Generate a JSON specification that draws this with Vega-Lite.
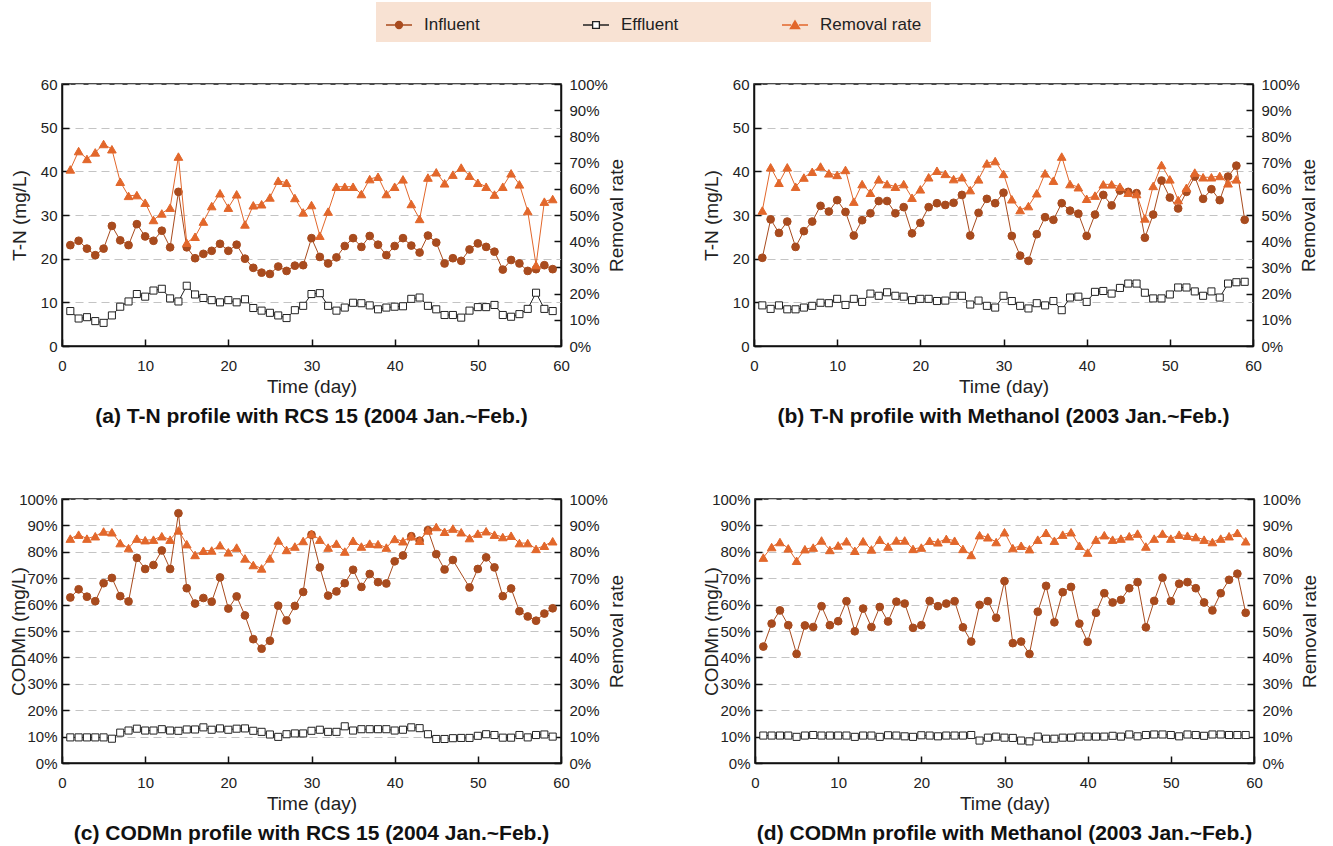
{
  "$schema": "https://vega.github.io/schema/vega-lite/v6.json",
  "padding": {"left": 8, "top": 2, "right": 4, "bottom": 0},
  "background": "white",
  "datasets": {
    "a": [
      {"d":1,"Influent":23.1,"Effluent":8.0,"Removal rate":67.4},
      {"d":2,"Influent":24.1,"Effluent":6.3,"Removal rate":74.4},
      {"d":3,"Influent":22.3,"Effluent":6.6,"Removal rate":71.4},
      {"d":4,"Influent":20.8,"Effluent":5.7,"Removal rate":73.9},
      {"d":5,"Influent":22.3,"Effluent":5.3,"Removal rate":77.1},
      {"d":6,"Influent":27.5,"Effluent":7.0,"Removal rate":75.1},
      {"d":7,"Influent":24.2,"Effluent":9.0,"Removal rate":62.7},
      {"d":8,"Influent":23.1,"Effluent":10.2,"Removal rate":57.3},
      {"d":9,"Influent":27.9,"Effluent":11.9,"Removal rate":57.6},
      {"d":10,"Influent":25.1,"Effluent":11.3,"Removal rate":54.7},
      {"d":11,"Influent":24.1,"Effluent":12.7,"Removal rate":48.1},
      {"d":12,"Influent":26.4,"Effluent":13.1,"Removal rate":50.6},
      {"d":13,"Influent":22.6,"Effluent":10.9,"Removal rate":52.8},
      {"d":14,"Influent":35.3,"Effluent":10.2,"Removal rate":72.3},
      {"d":15,"Influent":22.6,"Effluent":13.8,"Removal rate":39.4},
      {"d":16,"Influent":20.1,"Effluent":11.8,"Removal rate":41.7},
      {"d":17,"Influent":21.1,"Effluent":11.0,"Removal rate":47.5},
      {"d":18,"Influent":21.8,"Effluent":10.5,"Removal rate":53.4},
      {"d":19,"Influent":23.4,"Effluent":10.0,"Removal rate":58.3},
      {"d":20,"Influent":21.8,"Effluent":10.5,"Removal rate":52.8},
      {"d":21,"Influent":23.2,"Effluent":10.0,"Removal rate":57.9},
      {"d":22,"Influent":20.0,"Effluent":10.7,"Removal rate":46.4},
      {"d":23,"Influent":17.9,"Effluent":8.7,"Removal rate":53.7},
      {"d":24,"Influent":16.8,"Effluent":8.1,"Removal rate":54.1},
      {"d":25,"Influent":16.5,"Effluent":7.6,"Removal rate":56.7},
      {"d":26,"Influent":18.2,"Effluent":7.0,"Removal rate":63.1},
      {"d":27,"Influent":17.2,"Effluent":6.4,"Removal rate":62.3},
      {"d":28,"Influent":18.4,"Effluent":8.2,"Removal rate":56.5},
      {"d":29,"Influent":18.5,"Effluent":9.2,"Removal rate":51.0},
      {"d":30,"Influent":24.7,"Effluent":11.9,"Removal rate":53.8},
      {"d":31,"Influent":20.4,"Effluent":12.1,"Removal rate":42.1},
      {"d":32,"Influent":18.9,"Effluent":9.2,"Removal rate":51.3},
      {"d":33,"Influent":20.3,"Effluent":8.1,"Removal rate":60.8},
      {"d":34,"Influent":22.9,"Effluent":8.8,"Removal rate":60.8},
      {"d":35,"Influent":24.7,"Effluent":9.9,"Removal rate":60.8},
      {"d":36,"Influent":22.7,"Effluent":9.8,"Removal rate":58.0},
      {"d":37,"Influent":25.2,"Effluent":9.3,"Removal rate":63.7},
      {"d":38,"Influent":23.2,"Effluent":8.4,"Removal rate":64.6},
      {"d":39,"Influent":20.8,"Effluent":8.8,"Removal rate":58.0},
      {"d":40,"Influent":22.9,"Effluent":9.0,"Removal rate":60.8},
      {"d":41,"Influent":24.7,"Effluent":9.1,"Removal rate":63.6},
      {"d":42,"Influent":23.0,"Effluent":10.8,"Removal rate":54.2},
      {"d":43,"Influent":21.4,"Effluent":11.1,"Removal rate":48.5},
      {"d":44,"Influent":25.3,"Effluent":9.2,"Removal rate":64.3},
      {"d":45,"Influent":23.7,"Effluent":8.4,"Removal rate":66.3},
      {"d":46,"Influent":18.9,"Effluent":7.1,"Removal rate":62.1},
      {"d":47,"Influent":20.1,"Effluent":7.1,"Removal rate":65.4},
      {"d":48,"Influent":19.5,"Effluent":6.5,"Removal rate":68.1},
      {"d":49,"Influent":22.1,"Effluent":8.1,"Removal rate":65.0},
      {"d":50,"Influent":23.5,"Effluent":8.9,"Removal rate":62.3},
      {"d":51,"Influent":22.7,"Effluent":8.9,"Removal rate":60.8},
      {"d":52,"Influent":21.6,"Effluent":9.4,"Removal rate":57.8},
      {"d":53,"Influent":17.5,"Effluent":7.1,"Removal rate":60.8},
      {"d":54,"Influent":19.7,"Effluent":6.7,"Removal rate":65.9},
      {"d":55,"Influent":18.9,"Effluent":7.3,"Removal rate":61.7},
      {"d":56,"Influent":17.2,"Effluent":8.5,"Removal rate":51.5},
      {"d":57,"Influent":17.6,"Effluent":12.2,"Removal rate":30.9},
      {"d":58,"Influent":18.5,"Effluent":8.5,"Removal rate":55.1},
      {"d":59,"Influent":17.6,"Effluent":8.0,"Removal rate":56.1}
    ],
    "b": [
      {"d":1,"Influent":20.2,"Effluent":9.3,"Removal rate":51.7},
      {"d":2,"Influent":29.0,"Effluent":8.5,"Removal rate":68.2},
      {"d":3,"Influent":25.9,"Effluent":9.3,"Removal rate":62.3},
      {"d":4,"Influent":28.5,"Effluent":8.4,"Removal rate":68.2},
      {"d":5,"Influent":22.7,"Effluent":8.4,"Removal rate":60.8},
      {"d":6,"Influent":26.3,"Effluent":8.8,"Removal rate":64.3},
      {"d":7,"Influent":28.5,"Effluent":9.2,"Removal rate":66.5},
      {"d":8,"Influent":32.1,"Effluent":9.9,"Removal rate":68.5},
      {"d":9,"Influent":30.8,"Effluent":9.8,"Removal rate":65.9},
      {"d":10,"Influent":33.4,"Effluent":10.8,"Removal rate":65.3},
      {"d":11,"Influent":30.7,"Effluent":9.4,"Removal rate":67.2},
      {"d":12,"Influent":25.3,"Effluent":10.8,"Removal rate":55.1},
      {"d":13,"Influent":28.8,"Effluent":10.1,"Removal rate":61.8},
      {"d":14,"Influent":30.4,"Effluent":12.0,"Removal rate":58.5},
      {"d":15,"Influent":33.2,"Effluent":11.5,"Removal rate":63.6},
      {"d":16,"Influent":33.2,"Effluent":12.3,"Removal rate":61.8},
      {"d":17,"Influent":30.4,"Effluent":11.5,"Removal rate":60.8},
      {"d":18,"Influent":31.8,"Effluent":11.3,"Removal rate":61.8},
      {"d":19,"Influent":25.8,"Effluent":10.5,"Removal rate":56.6},
      {"d":20,"Influent":28.2,"Effluent":10.8,"Removal rate":59.8},
      {"d":21,"Influent":31.8,"Effluent":10.8,"Removal rate":64.4},
      {"d":22,"Influent":32.7,"Effluent":10.3,"Removal rate":66.9},
      {"d":23,"Influent":32.3,"Effluent":10.4,"Removal rate":65.7},
      {"d":24,"Influent":32.8,"Effluent":11.5,"Removal rate":63.7},
      {"d":25,"Influent":34.6,"Effluent":11.5,"Removal rate":64.4},
      {"d":26,"Influent":25.3,"Effluent":9.5,"Removal rate":59.5},
      {"d":27,"Influent":30.5,"Effluent":10.4,"Removal rate":63.6},
      {"d":28,"Influent":33.7,"Effluent":9.2,"Removal rate":69.7},
      {"d":29,"Influent":32.7,"Effluent":8.8,"Removal rate":70.6},
      {"d":30,"Influent":35.1,"Effluent":11.5,"Removal rate":65.7},
      {"d":31,"Influent":25.2,"Effluent":10.3,"Removal rate":56.0},
      {"d":32,"Influent":20.7,"Effluent":9.2,"Removal rate":51.9},
      {"d":33,"Influent":19.5,"Effluent":8.6,"Removal rate":53.4},
      {"d":34,"Influent":25.6,"Effluent":9.8,"Removal rate":58.3},
      {"d":35,"Influent":29.5,"Effluent":9.3,"Removal rate":65.9},
      {"d":36,"Influent":28.9,"Effluent":10.3,"Removal rate":63.1},
      {"d":37,"Influent":32.7,"Effluent":8.2,"Removal rate":72.3},
      {"d":38,"Influent":31.0,"Effluent":11.1,"Removal rate":61.8},
      {"d":39,"Influent":30.3,"Effluent":11.3,"Removal rate":60.6},
      {"d":40,"Influent":25.2,"Effluent":10.1,"Removal rate":56.2},
      {"d":41,"Influent":30.1,"Effluent":12.4,"Removal rate":57.4},
      {"d":42,"Influent":34.6,"Effluent":12.6,"Removal rate":61.7},
      {"d":43,"Influent":32.2,"Effluent":12.0,"Removal rate":61.7},
      {"d":44,"Influent":35.6,"Effluent":13.3,"Removal rate":60.8},
      {"d":45,"Influent":35.3,"Effluent":14.3,"Removal rate":58.5},
      {"d":46,"Influent":35.0,"Effluent":14.3,"Removal rate":58.0},
      {"d":47,"Influent":24.8,"Effluent":12.2,"Removal rate":48.7},
      {"d":48,"Influent":30.1,"Effluent":10.9,"Removal rate":61.1},
      {"d":49,"Influent":37.9,"Effluent":10.9,"Removal rate":69.1},
      {"d":50,"Influent":34.0,"Effluent":11.8,"Removal rate":63.6},
      {"d":51,"Influent":31.5,"Effluent":13.4,"Removal rate":55.7},
      {"d":52,"Influent":35.3,"Effluent":13.4,"Removal rate":60.4},
      {"d":53,"Influent":38.8,"Effluent":12.5,"Removal rate":66.2},
      {"d":54,"Influent":33.7,"Effluent":11.5,"Removal rate":64.4},
      {"d":55,"Influent":35.9,"Effluent":12.5,"Removal rate":64.4},
      {"d":56,"Influent":33.4,"Effluent":11.1,"Removal rate":64.9},
      {"d":57,"Influent":38.8,"Effluent":14.3,"Removal rate":62.1},
      {"d":58,"Influent":41.3,"Effluent":14.6,"Removal rate":63.6},
      {"d":59,"Influent":28.9,"Effluent":14.7,"Removal rate":null}
    ],
    "c": [
      {"d":1,"Influent":62.7,"Effluent":9.7,"Removal rate":85.0},
      {"d":2,"Influent":65.8,"Effluent":9.7,"Removal rate":86.5},
      {"d":3,"Influent":63.0,"Effluent":9.7,"Removal rate":85.0},
      {"d":4,"Influent":61.3,"Effluent":9.7,"Removal rate":85.9},
      {"d":5,"Influent":68.1,"Effluent":9.7,"Removal rate":87.7},
      {"d":6,"Influent":70.1,"Effluent":9.2,"Removal rate":87.4},
      {"d":7,"Influent":63.2,"Effluent":11.5,"Removal rate":83.3},
      {"d":8,"Influent":61.2,"Effluent":12.3,"Removal rate":81.4},
      {"d":9,"Influent":77.7,"Effluent":13.0,"Removal rate":85.0},
      {"d":10,"Influent":73.5,"Effluent":12.3,"Removal rate":84.4},
      {"d":11,"Influent":75.0,"Effluent":12.3,"Removal rate":84.6},
      {"d":12,"Influent":80.5,"Effluent":12.8,"Removal rate":85.9},
      {"d":13,"Influent":73.5,"Effluent":12.3,"Removal rate":84.6},
      {"d":14,"Influent":94.6,"Effluent":12.2,"Removal rate":88.1},
      {"d":15,"Influent":66.2,"Effluent":12.7,"Removal rate":82.9},
      {"d":16,"Influent":60.4,"Effluent":12.7,"Removal rate":78.8},
      {"d":17,"Influent":62.5,"Effluent":13.5,"Removal rate":80.4},
      {"d":18,"Influent":61.1,"Effluent":12.6,"Removal rate":80.5},
      {"d":19,"Influent":70.3,"Effluent":13.1,"Removal rate":82.5},
      {"d":20,"Influent":58.5,"Effluent":12.6,"Removal rate":79.8},
      {"d":21,"Influent":63.1,"Effluent":13.0,"Removal rate":81.6},
      {"d":22,"Influent":55.9,"Effluent":13.1,"Removal rate":77.5},
      {"d":23,"Influent":46.9,"Effluent":12.2,"Removal rate":75.0},
      {"d":24,"Influent":43.3,"Effluent":11.8,"Removal rate":73.7},
      {"d":25,"Influent":46.3,"Effluent":10.8,"Removal rate":77.5},
      {"d":26,"Influent":59.6,"Effluent":9.9,"Removal rate":84.3},
      {"d":27,"Influent":54.0,"Effluent":10.9,"Removal rate":80.7},
      {"d":28,"Influent":59.5,"Effluent":11.2,"Removal rate":82.0},
      {"d":29,"Influent":64.8,"Effluent":11.2,"Removal rate":84.1},
      {"d":30,"Influent":86.5,"Effluent":12.2,"Removal rate":86.8},
      {"d":31,"Influent":74.1,"Effluent":12.6,"Removal rate":84.6},
      {"d":32,"Influent":63.4,"Effluent":11.8,"Removal rate":81.6},
      {"d":33,"Influent":65.0,"Effluent":11.8,"Removal rate":83.1},
      {"d":34,"Influent":68.1,"Effluent":13.9,"Removal rate":80.1},
      {"d":35,"Influent":73.2,"Effluent":12.3,"Removal rate":84.2},
      {"d":36,"Influent":66.7,"Effluent":12.8,"Removal rate":82.0},
      {"d":37,"Influent":71.6,"Effluent":12.8,"Removal rate":83.1},
      {"d":38,"Influent":68.5,"Effluent":12.8,"Removal rate":82.9},
      {"d":39,"Influent":68.0,"Effluent":12.8,"Removal rate":81.6},
      {"d":40,"Influent":76.4,"Effluent":12.3,"Removal rate":84.9},
      {"d":41,"Influent":78.6,"Effluent":12.6,"Removal rate":84.0},
      {"d":42,"Influent":85.9,"Effluent":13.5,"Removal rate":85.9},
      {"d":43,"Influent":84.2,"Effluent":13.2,"Removal rate":84.2},
      {"d":44,"Influent":88.2,"Effluent":10.9,"Removal rate":88.1},
      {"d":45,"Influent":79.1,"Effluent":9.1,"Removal rate":89.4},
      {"d":46,"Influent":73.3,"Effluent":9.1,"Removal rate":87.6},
      {"d":47,"Influent":76.9,"Effluent":9.4,"Removal rate":88.8},
      {"d":48,"Influent":null,"Effluent":9.5,"Removal rate":87.4},
      {"d":49,"Influent":66.5,"Effluent":9.5,"Removal rate":85.2},
      {"d":50,"Influent":73.5,"Effluent":10.3,"Removal rate":86.9},
      {"d":51,"Influent":77.9,"Effluent":10.9,"Removal rate":87.8},
      {"d":52,"Influent":74.1,"Effluent":10.6,"Removal rate":86.5},
      {"d":53,"Influent":63.2,"Effluent":9.6,"Removal rate":85.6},
      {"d":54,"Influent":66.1,"Effluent":9.6,"Removal rate":86.1},
      {"d":55,"Influent":57.5,"Effluent":10.6,"Removal rate":83.3},
      {"d":56,"Influent":55.5,"Effluent":9.7,"Removal rate":83.3},
      {"d":57,"Influent":53.9,"Effluent":10.6,"Removal rate":81.1},
      {"d":58,"Influent":56.6,"Effluent":10.8,"Removal rate":82.3},
      {"d":59,"Influent":58.6,"Effluent":10.0,"Removal rate":84.0}
    ],
    "d": [
      {"d":1,"Influent":44.1,"Effluent":10.4,"Removal rate":77.8},
      {"d":2,"Influent":52.8,"Effluent":10.4,"Removal rate":81.8},
      {"d":3,"Influent":57.8,"Effluent":10.4,"Removal rate":83.7},
      {"d":4,"Influent":52.2,"Effluent":10.4,"Removal rate":81.3},
      {"d":5,"Influent":41.3,"Effluent":9.9,"Removal rate":76.6},
      {"d":6,"Influent":52.1,"Effluent":10.4,"Removal rate":81.0},
      {"d":7,"Influent":51.5,"Effluent":10.6,"Removal rate":81.6},
      {"d":8,"Influent":59.4,"Effluent":10.4,"Removal rate":84.3},
      {"d":9,"Influent":52.2,"Effluent":10.4,"Removal rate":80.7},
      {"d":10,"Influent":53.7,"Effluent":10.4,"Removal rate":82.4},
      {"d":11,"Influent":61.3,"Effluent":10.4,"Removal rate":84.0},
      {"d":12,"Influent":49.9,"Effluent":9.9,"Removal rate":80.4},
      {"d":13,"Influent":58.5,"Effluent":10.4,"Removal rate":84.0},
      {"d":14,"Influent":51.5,"Effluent":10.4,"Removal rate":80.9},
      {"d":15,"Influent":59.1,"Effluent":9.9,"Removal rate":84.6},
      {"d":16,"Influent":53.6,"Effluent":10.5,"Removal rate":82.0},
      {"d":17,"Influent":61.1,"Effluent":10.4,"Removal rate":84.3},
      {"d":18,"Influent":60.4,"Effluent":10.1,"Removal rate":84.3},
      {"d":19,"Influent":51.2,"Effluent":9.9,"Removal rate":81.1},
      {"d":20,"Influent":52.2,"Effluent":10.5,"Removal rate":81.6},
      {"d":21,"Influent":61.4,"Effluent":10.4,"Removal rate":84.2},
      {"d":22,"Influent":59.4,"Effluent":10.1,"Removal rate":83.6},
      {"d":23,"Influent":60.4,"Effluent":10.4,"Removal rate":84.9},
      {"d":24,"Influent":61.3,"Effluent":10.4,"Removal rate":84.2},
      {"d":25,"Influent":51.4,"Effluent":10.4,"Removal rate":81.1},
      {"d":26,"Influent":46.0,"Effluent":10.6,"Removal rate":78.8},
      {"d":27,"Influent":59.9,"Effluent":8.5,"Removal rate":86.3},
      {"d":28,"Influent":61.3,"Effluent":9.6,"Removal rate":85.5},
      {"d":29,"Influent":55.0,"Effluent":10.0,"Removal rate":83.7},
      {"d":30,"Influent":68.9,"Effluent":9.6,"Removal rate":87.4},
      {"d":31,"Influent":45.4,"Effluent":9.5,"Removal rate":81.4},
      {"d":32,"Influent":46.0,"Effluent":8.5,"Removal rate":82.3},
      {"d":33,"Influent":41.3,"Effluent":8.2,"Removal rate":81.0},
      {"d":34,"Influent":57.3,"Effluent":10.0,"Removal rate":84.6},
      {"d":35,"Influent":67.1,"Effluent":9.2,"Removal rate":87.2},
      {"d":36,"Influent":53.3,"Effluent":9.2,"Removal rate":84.2},
      {"d":37,"Influent":64.7,"Effluent":9.6,"Removal rate":86.5},
      {"d":38,"Influent":66.7,"Effluent":9.6,"Removal rate":87.4},
      {"d":39,"Influent":52.8,"Effluent":10.0,"Removal rate":82.3},
      {"d":40,"Influent":45.9,"Effluent":10.0,"Removal rate":79.7},
      {"d":41,"Influent":56.9,"Effluent":10.0,"Removal rate":84.6},
      {"d":42,"Influent":64.3,"Effluent":10.0,"Removal rate":86.3},
      {"d":43,"Influent":60.8,"Effluent":10.3,"Removal rate":84.6},
      {"d":44,"Influent":61.8,"Effluent":10.0,"Removal rate":85.0},
      {"d":45,"Influent":66.2,"Effluent":10.8,"Removal rate":85.9},
      {"d":46,"Influent":68.5,"Effluent":10.1,"Removal rate":86.9},
      {"d":47,"Influent":51.4,"Effluent":10.6,"Removal rate":82.0},
      {"d":48,"Influent":61.4,"Effluent":10.8,"Removal rate":85.0},
      {"d":49,"Influent":70.2,"Effluent":10.8,"Removal rate":86.9},
      {"d":50,"Influent":61.3,"Effluent":10.6,"Removal rate":85.0},
      {"d":51,"Influent":67.9,"Effluent":10.1,"Removal rate":86.5},
      {"d":52,"Influent":68.5,"Effluent":10.8,"Removal rate":86.1},
      {"d":53,"Influent":66.2,"Effluent":10.6,"Removal rate":85.6},
      {"d":54,"Influent":60.8,"Effluent":10.3,"Removal rate":84.6},
      {"d":55,"Influent":57.8,"Effluent":10.8,"Removal rate":83.7},
      {"d":56,"Influent":64.3,"Effluent":10.8,"Removal rate":85.0},
      {"d":57,"Influent":69.4,"Effluent":10.6,"Removal rate":85.9},
      {"d":58,"Influent":71.7,"Effluent":10.6,"Removal rate":87.2},
      {"d":59,"Influent":56.9,"Effluent":10.6,"Removal rate":84.0}
    ]
  },
  "config": {
    "font": "Liberation Sans",
    "view": {"stroke": "#111111", "strokeWidth": 1.5},
    "title": {"orient": "bottom", "fontSize": 21, "fontWeight": "bold", "color": "#111111", "offset": 10, "anchor": "middle"},
    "axis": {
      "labelFontSize": 15, "titleFontSize": 19, "titleFontWeight": "normal",
      "labelColor": "#222222", "titleColor": "#222222",
      "domainColor": "#111111", "domainWidth": 1.5,
      "tickColor": "#111111", "tickWidth": 1.5, "tickSize": -7,
      "labelFlush": false, "labelOverlap": false,
      "grid": false, "gridColor": "#c4c4c4", "gridDash": [8, 5], "gridWidth": 1.2
    },
    "axisX": {"labelPadding": 19, "titlePadding": 4},
    "axisLeft": {"labelPadding": 12},
    "axisRight": {"labelPadding": 15, "titlePadding": 0, "titleAngle": 270, "titleBaseline": "top"},
    "legend": {
      "title": null, "fillColor": "#f8e2d3", "padding": 9,
      "labelFontSize": 17, "labelColor": "#222222", "labelOffset": 11,
      "columnPadding": 100, "symbolSize": 676, "symbolOpacity": 1, "symbolStrokeWidth": 1.3
    }
  },
  "resolve": {"scale": {"stroke": "shared", "fill": "shared", "shape": "shared"}},
  "spacing": 63,
  "vconcat": [
    {
      "spacing": 73,
      "resolve": {"scale": {"stroke": "shared", "fill": "shared", "shape": "shared"}},
      "hconcat": [
        {
          "width": 499, "height": 262,
          "data": {"name": "a"},
          "title": "(a) T-N profile with RCS 15 (2004 Jan.~Feb.)",
          "encoding": {
            "x": {"field": "d", "type": "quantitative", "scale": {"domain": [0, 60], "nice": false}, "axis": {"values": [0,10,20,30,40,50,60], "title": "Time (day)"}},
            "stroke": {"field": "series", "type": "nominal", "scale": {"domain": ["Influent", "Effluent", "Removal rate"], "range": ["#a84b1e", "#222222", "#e2672b"]},
              "legend": {"orient": "none", "direction": "horizontal", "legendX": 314, "legendY": -82}}
          },
          "layer": [
            {
              "transform": [{"fold": ["Influent", "Effluent"], "as": ["series", "value"]}, {"filter": "isValid(datum.value)"}],
              "encoding": {"y": {"field": "value", "type": "quantitative", "scale": {"domain": [0, 60], "nice": false}, "axis": {"values": [0,10,20,30,40,50,60], "title": "T-N (mg/L)", "titlePadding": 11, "grid": true}}},
              "layer": [
                {"mark": {"type": "line", "strokeWidth": 1}},
                {"transform": [{"filter": "datum.series === 'Influent'"}], "mark": {"type": "point", "shape": "circle", "filled": true, "fill": "#a84b1e", "opacity": 1, "strokeWidth": 1, "size": 60}},
                {"transform": [{"filter": "datum.series === 'Effluent'"}], "mark": {"type": "point", "shape": "square", "filled": true, "fill": "#ffffff", "opacity": 1, "strokeWidth": 1, "size": 50}},
                {"mark": {"type": "point", "opacity": 0, "size": 10},
                 "encoding": {
                   "shape": {"field": "series", "type": "nominal", "scale": {"domain": ["Influent", "Effluent", "Removal rate"], "range": ["M-1,0L-0.27,0M0.27,0L1,0M-0.27,0A0.27,0.27 0 1,1 0.27,0A0.27,0.27 0 1,1 -0.27,0Z", "M-1,0L-0.26,0M0.26,0L1,0M-0.26,-0.26L0.26,-0.26L0.26,0.26L-0.26,0.26Z", "M-1,0L-0.3,0M0.3,0L1,0M0,-0.32L0.36,0.28L-0.36,0.28Z"]},
                     "legend": {"orient": "none", "direction": "horizontal", "legendX": 314, "legendY": -82}},
                   "fill": {"field": "series", "type": "nominal", "scale": {"domain": ["Influent", "Effluent", "Removal rate"], "range": ["#a84b1e", "#ffffff", "#e2672b"]},
                     "legend": {"orient": "none", "direction": "horizontal", "legendX": 314, "legendY": -82}}
                 }}
              ]
            },
            {
              "transform": [{"fold": ["Removal rate"], "as": ["series", "value"]}, {"filter": "isValid(datum.value)"}],
              "encoding": {"y": {"field": "value", "type": "quantitative", "scale": {"domain": [0, 100], "nice": false}, "axis": {"orient": "right", "values": [0,10,20,30,40,50,60,70,80,90,100], "labelExpr": "datum.value + '%'", "title": "Removal rate"}}},
              "layer": [
                {"mark": {"type": "line", "strokeWidth": 1}},
                {"mark": {"type": "point", "shape": "triangle-up", "filled": true, "fill": "#e2672b", "opacity": 1, "strokeWidth": 1, "size": 75}}
              ]
            }
          ],
          "resolve": {"scale": {"y": "independent"}}
        },
        {
          "width": 499, "height": 262,
          "data": {"name": "b"},
          "title": "(b) T-N profile with Methanol (2003 Jan.~Feb.)",
          "encoding": {
            "x": {"field": "d", "type": "quantitative", "scale": {"domain": [0, 60], "nice": false}, "axis": {"values": [0,10,20,30,40,50,60], "title": "Time (day)"}},
            "stroke": {"field": "series", "type": "nominal", "scale": {"domain": ["Influent", "Effluent", "Removal rate"], "range": ["#a84b1e", "#222222", "#e2672b"]}, "legend": null}
          },
          "layer": [
            {
              "transform": [{"fold": ["Influent", "Effluent"], "as": ["series", "value"]}, {"filter": "isValid(datum.value)"}],
              "encoding": {"y": {"field": "value", "type": "quantitative", "scale": {"domain": [0, 60], "nice": false}, "axis": {"values": [0,10,20,30,40,50,60], "title": "T-N (mg/L)", "titlePadding": 11, "grid": true}}},
              "layer": [
                {"mark": {"type": "line", "strokeWidth": 1}},
                {"transform": [{"filter": "datum.series === 'Influent'"}], "mark": {"type": "point", "shape": "circle", "filled": true, "fill": "#a84b1e", "opacity": 1, "strokeWidth": 1, "size": 60}},
                {"transform": [{"filter": "datum.series === 'Effluent'"}], "mark": {"type": "point", "shape": "square", "filled": true, "fill": "#ffffff", "opacity": 1, "strokeWidth": 1, "size": 50}}
              ]
            },
            {
              "transform": [{"fold": ["Removal rate"], "as": ["series", "value"]}, {"filter": "isValid(datum.value)"}],
              "encoding": {"y": {"field": "value", "type": "quantitative", "scale": {"domain": [0, 100], "nice": false}, "axis": {"orient": "right", "values": [0,10,20,30,40,50,60,70,80,90,100], "labelExpr": "datum.value + '%'", "title": "Removal rate"}}},
              "layer": [
                {"mark": {"type": "line", "strokeWidth": 1}},
                {"mark": {"type": "point", "shape": "triangle-up", "filled": true, "fill": "#e2672b", "opacity": 1, "strokeWidth": 1, "size": 75}}
              ]
            }
          ],
          "resolve": {"scale": {"y": "independent"}}
        }
      ]
    },
    {
      "spacing": 73,
      "resolve": {"scale": {"stroke": "shared", "fill": "shared", "shape": "shared"}},
      "hconcat": [
        {
          "width": 499, "height": 264,
          "data": {"name": "c"},
          "title": "(c) CODMn profile with RCS 15 (2004 Jan.~Feb.)",
          "encoding": {
            "x": {"field": "d", "type": "quantitative", "scale": {"domain": [0, 60], "nice": false}, "axis": {"values": [0,10,20,30,40,50,60], "title": "Time (day)"}},
            "stroke": {"field": "series", "type": "nominal", "scale": {"domain": ["Influent", "Effluent", "Removal rate"], "range": ["#a84b1e", "#222222", "#e2672b"]}, "legend": null}
          },
          "layer": [
            {
              "transform": [{"fold": ["Influent", "Effluent"], "as": ["series", "value"]}, {"filter": "isValid(datum.value)"}],
              "encoding": {"y": {"field": "value", "type": "quantitative", "scale": {"domain": [0, 100], "nice": false}, "axis": {"values": [0,10,20,30,40,50,60,70,80,90,100], "labelExpr": "datum.value + '%'", "title": "CODMn (mg/L)", "titlePadding": -10, "grid": true}}},
              "layer": [
                {"mark": {"type": "line", "strokeWidth": 1}},
                {"transform": [{"filter": "datum.series === 'Influent'"}], "mark": {"type": "point", "shape": "circle", "filled": true, "fill": "#a84b1e", "opacity": 1, "strokeWidth": 1, "size": 60}},
                {"transform": [{"filter": "datum.series === 'Effluent'"}], "mark": {"type": "point", "shape": "square", "filled": true, "fill": "#ffffff", "opacity": 1, "strokeWidth": 1, "size": 50}}
              ]
            },
            {
              "transform": [{"fold": ["Removal rate"], "as": ["series", "value"]}, {"filter": "isValid(datum.value)"}],
              "encoding": {"y": {"field": "value", "type": "quantitative", "scale": {"domain": [0, 100], "nice": false}, "axis": {"orient": "right", "values": [0,10,20,30,40,50,60,70,80,90,100], "labelExpr": "datum.value + '%'", "title": "Removal rate"}}},
              "layer": [
                {"mark": {"type": "line", "strokeWidth": 1}},
                {"mark": {"type": "point", "shape": "triangle-up", "filled": true, "fill": "#e2672b", "opacity": 1, "strokeWidth": 1, "size": 75}}
              ]
            }
          ],
          "resolve": {"scale": {"y": "independent"}}
        },
        {
          "width": 499, "height": 264,
          "data": {"name": "d"},
          "title": "(d) CODMn profile with Methanol (2003 Jan.~Feb.)",
          "encoding": {
            "x": {"field": "d", "type": "quantitative", "scale": {"domain": [0, 60], "nice": false}, "axis": {"values": [0,10,20,30,40,50,60], "title": "Time (day)"}},
            "stroke": {"field": "series", "type": "nominal", "scale": {"domain": ["Influent", "Effluent", "Removal rate"], "range": ["#a84b1e", "#222222", "#e2672b"]}, "legend": null}
          },
          "layer": [
            {
              "transform": [{"fold": ["Influent", "Effluent"], "as": ["series", "value"]}, {"filter": "isValid(datum.value)"}],
              "encoding": {"y": {"field": "value", "type": "quantitative", "scale": {"domain": [0, 100], "nice": false}, "axis": {"values": [0,10,20,30,40,50,60,70,80,90,100], "labelExpr": "datum.value + '%'", "title": "CODMn (mg/L)", "titlePadding": -10, "grid": true}}},
              "layer": [
                {"mark": {"type": "line", "strokeWidth": 1}},
                {"transform": [{"filter": "datum.series === 'Influent'"}], "mark": {"type": "point", "shape": "circle", "filled": true, "fill": "#a84b1e", "opacity": 1, "strokeWidth": 1, "size": 60}},
                {"transform": [{"filter": "datum.series === 'Effluent'"}], "mark": {"type": "point", "shape": "square", "filled": true, "fill": "#ffffff", "opacity": 1, "strokeWidth": 1, "size": 50}}
              ]
            },
            {
              "transform": [{"fold": ["Removal rate"], "as": ["series", "value"]}, {"filter": "isValid(datum.value)"}],
              "encoding": {"y": {"field": "value", "type": "quantitative", "scale": {"domain": [0, 100], "nice": false}, "axis": {"orient": "right", "values": [0,10,20,30,40,50,60,70,80,90,100], "labelExpr": "datum.value + '%'", "title": "Removal rate"}}},
              "layer": [
                {"mark": {"type": "line", "strokeWidth": 1}},
                {"mark": {"type": "point", "shape": "triangle-up", "filled": true, "fill": "#e2672b", "opacity": 1, "strokeWidth": 1, "size": 75}}
              ]
            }
          ],
          "resolve": {"scale": {"y": "independent"}}
        }
      ]
    }
  ]
}
